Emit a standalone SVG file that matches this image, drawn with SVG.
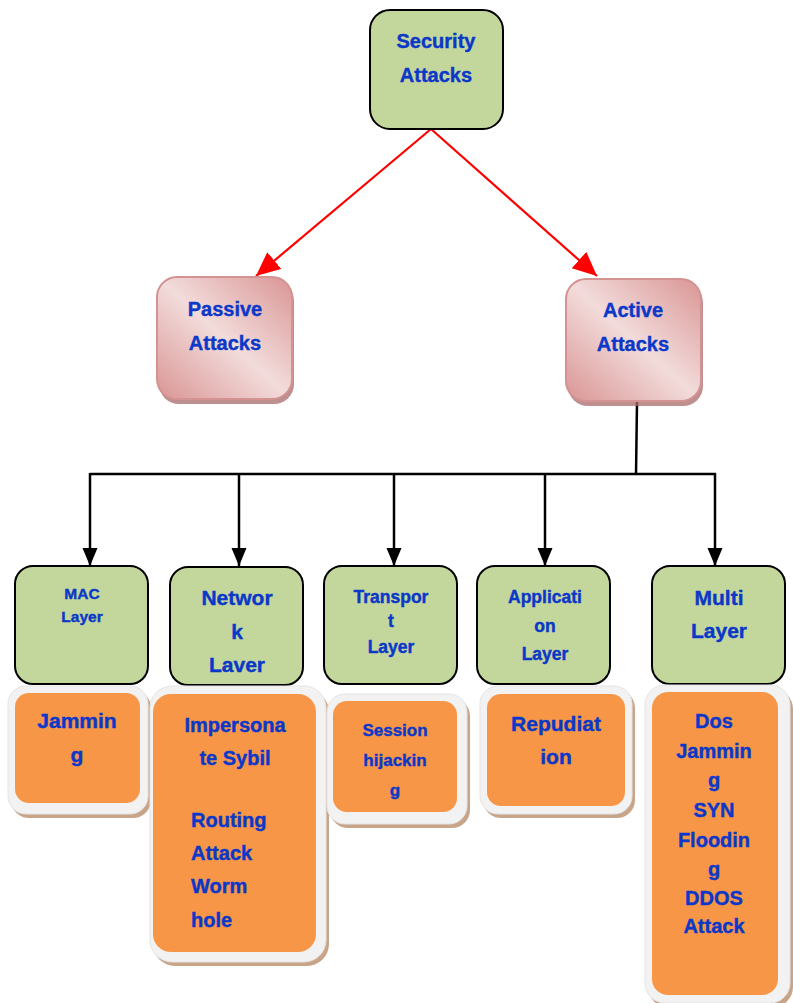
<svg xmlns="http://www.w3.org/2000/svg" width="793" height="1003" viewBox="0 0 793 1003">
<style>
.t{font-family:"Liberation Sans",Arial,sans-serif;font-weight:bold;fill:#0b38c8;stroke:#0b38c8;stroke-width:0.4;text-anchor:middle}
.tl{text-anchor:start}
.g{fill:#c3d69b;stroke:#000;stroke-width:2}
.fr{fill:#f2f2f2;stroke:#e4e4e4;stroke-width:1}
.sh{fill:#c8a489}
.or{fill:#f79646}
.pk{fill:url(#pg);stroke:#d49292;stroke-width:2}
.psh{fill:#a86a6a;opacity:0.75}
.red{stroke:#ff0000;stroke-width:2.2;fill:none}
.blk{stroke:#000;stroke-width:2.5;fill:none}
</style>
<defs>
<linearGradient id="pg" x1="0" y1="1" x2="1" y2="0">
<stop offset="0" stop-color="#d99594"/>
<stop offset="0.5" stop-color="#f2dcdb"/>
<stop offset="1" stop-color="#d99594"/>
</linearGradient>
<marker id="ar" markerUnits="userSpaceOnUse" markerWidth="26" markerHeight="24" refX="24" refY="11" orient="auto">
<path d="M0,0 L24,11 L0,22 Z" fill="#ff0000"/>
</marker>
<marker id="ab" markerUnits="userSpaceOnUse" markerWidth="20" markerHeight="20" refX="18" refY="7.5" orient="auto">
<path d="M0,0 L18,7.5 L0,15 Z" fill="#000"/>
</marker>
</defs>

<g id="connectors">
<line class="red" x1="431" y1="129" x2="256" y2="276" marker-end="url(#ar)"/>
<line class="red" x1="431" y1="129" x2="597" y2="276" marker-end="url(#ar)"/>
<line class="blk" x1="637" y1="402" x2="636" y2="475"/>
<line class="blk" x1="90" y1="474" x2="716" y2="474"/>
<line class="blk" x1="90" y1="473" x2="90" y2="566" marker-end="url(#ab)"/>
<line class="blk" x1="239" y1="473" x2="239" y2="566" marker-end="url(#ab)"/>
<line class="blk" x1="394" y1="473" x2="394" y2="566" marker-end="url(#ab)"/>
<line class="blk" x1="545" y1="473" x2="545" y2="566" marker-end="url(#ab)"/>
<line class="blk" x1="715" y1="473" x2="715" y2="566" marker-end="url(#ab)"/>
</g>

<g id="security">
<rect class="g" x="370" y="10" width="133" height="119" rx="20"/>
<text class="t" x="436" y="48" font-size="20">Security</text>
<text class="t" x="436" y="82" font-size="20">Attacks</text>
</g>

<g id="passive">
<rect class="psh" x="159" y="281" width="135" height="123" rx="20"/>
<rect class="pk" x="157" y="277" width="135" height="122" rx="20"/>
<text class="t" x="225" y="316" font-size="20">Passive</text>
<text class="t" x="225" y="350" font-size="20">Attacks</text>
</g>

<g id="active">
<rect class="psh" x="568" y="283" width="135" height="123" rx="20"/>
<rect class="pk" x="566" y="279" width="135" height="122" rx="20"/>
<text class="t" x="633" y="317" font-size="20">Active</text>
<text class="t" x="633" y="351" font-size="20">Attacks</text>
</g>

<g id="mac">
<rect class="g" x="15" y="566" width="133" height="118" rx="18"/>
<text class="t" x="82" y="599" font-size="15.5">MAC</text>
<text class="t" x="82" y="622" font-size="15.5">Layer</text>
</g>

<g id="network">
<rect class="g" x="170" y="567" width="133" height="118" rx="18"/>
<text class="t" x="237" y="605" font-size="21">Networ</text>
<text class="t" x="237" y="639" font-size="21">k</text>
<text class="t" x="237" y="672" font-size="21">Laver</text>
</g>

<g id="transport">
<rect class="g" x="324" y="566" width="133" height="118" rx="18"/>
<text class="t" x="391" y="603" font-size="17.5">Transpor</text>
<text class="t" x="391" y="627" font-size="17.5">t</text>
<text class="t" x="391" y="653" font-size="17.5">Layer</text>
</g>

<g id="application">
<rect class="g" x="477" y="566" width="133" height="118" rx="18"/>
<text class="t" x="545" y="603" font-size="17.5">Applicati</text>
<text class="t" x="545" y="632" font-size="17.5">on</text>
<text class="t" x="545" y="660" font-size="17.5">Layer</text>
</g>

<g id="multi">
<rect class="g" x="652" y="566" width="133" height="118" rx="18"/>
<text class="t" x="719" y="605" font-size="21">Multi</text>
<text class="t" x="719" y="638" font-size="21">Layer</text>
</g>

<g id="jamming">
<rect class="sh" x="11" y="690" width="140" height="128" rx="18"/>
<rect class="fr" x="8" y="686" width="140" height="128" rx="18"/>
<rect class="or" x="15" y="693" width="125" height="110" rx="14"/>
<text class="t" x="77" y="728" font-size="21">Jammin</text>
<text class="t" x="77" y="762" font-size="21">g</text>
</g>

<g id="network-attacks">
<rect class="sh" x="153" y="690" width="176" height="276" rx="22"/>
<rect class="fr" x="150" y="686" width="176" height="276" rx="22"/>
<rect class="or" x="153" y="694" width="163" height="258" rx="18"/>
<text class="t" x="235" y="732" font-size="20">Impersona</text>
<text class="t" x="235" y="765" font-size="20">te Sybil</text>
<text class="t tl" x="191" y="827" font-size="20">Routing</text>
<text class="t tl" x="191" y="860" font-size="20">Attack</text>
<text class="t tl" x="191" y="893" font-size="20">Worm</text>
<text class="t tl" x="191" y="927" font-size="20">hole</text>
</g>

<g id="session">
<rect class="sh" x="330" y="698" width="140" height="130" rx="18"/>
<rect class="fr" x="327" y="694" width="140" height="130" rx="18"/>
<rect class="or" x="333" y="701" width="124" height="111" rx="14"/>
<text class="t" x="395" y="736" font-size="17">Session</text>
<text class="t" x="395" y="766" font-size="17">hijackin</text>
<text class="t" x="395" y="796" font-size="17">g</text>
</g>

<g id="repudiation">
<rect class="sh" x="483" y="690" width="152" height="128" rx="18"/>
<rect class="fr" x="480" y="686" width="152" height="128" rx="18"/>
<rect class="or" x="487" y="694" width="138" height="112" rx="14"/>
<text class="t" x="556" y="731" font-size="21">Repudiat</text>
<text class="t" x="556" y="764" font-size="21">ion</text>
</g>

<g id="multi-attacks">
<rect class="sh" x="648" y="689" width="145" height="318" rx="20"/>
<rect class="fr" x="645" y="685" width="145" height="318" rx="20"/>
<rect class="or" x="652" y="692" width="126" height="303" rx="16"/>
<text class="t" x="714" y="728" font-size="20">Dos</text>
<text class="t" x="714" y="758" font-size="20">Jammin</text>
<text class="t" x="714" y="787" font-size="20">g</text>
<text class="t" x="714" y="817" font-size="20">SYN</text>
<text class="t" x="714" y="847" font-size="20">Floodin</text>
<text class="t" x="714" y="876" font-size="20">g</text>
<text class="t" x="714" y="905" font-size="20">DDOS</text>
<text class="t" x="714" y="933" font-size="20">Attack</text>
</g>
</svg>
